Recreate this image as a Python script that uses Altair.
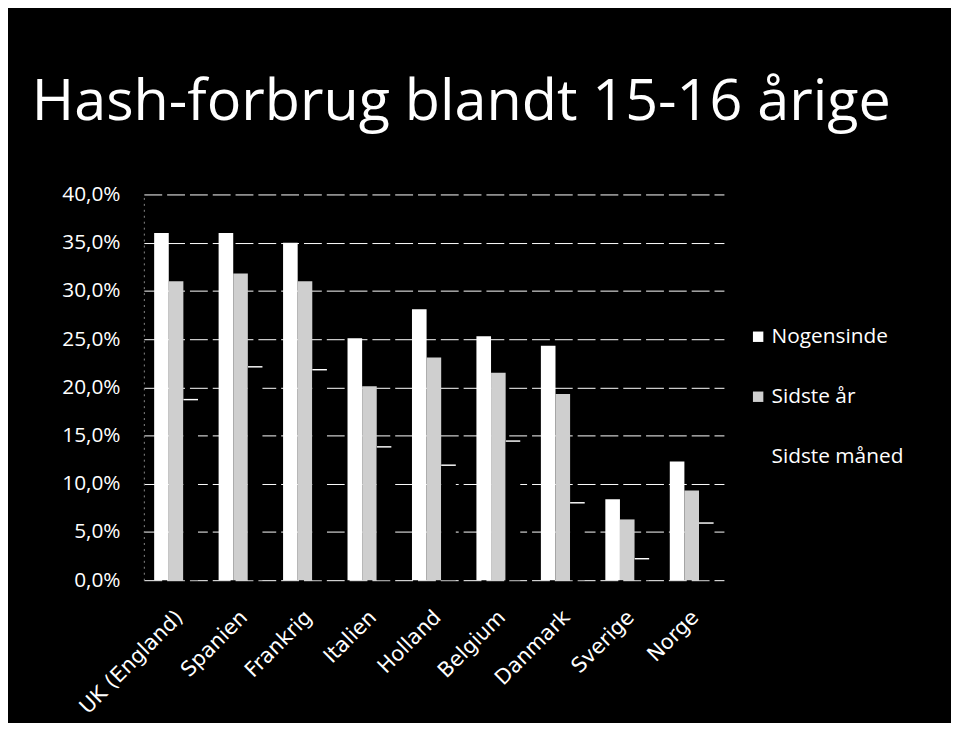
import altair as alt
import pandas as pd

lande = ["UK (England)", "Spanien", "Frankrig", "Italien", "Holland",
         "Belgium", "Danmark", "Sverige", "Norge"]
serier = ["Nogensinde", "Sidste år", "Sidste måned"]
nogensinde = [36.0, 36.0, 35.0, 25.1, 28.1, 25.3, 24.3, 8.4, 12.3]
sidste_aar = [31.0, 31.8, 31.0, 20.1, 23.1, 21.5, 19.3, 6.3, 9.3]
sidste_maaned = [18.8, 22.2, 21.9, 13.9, 12.0, 14.5, 8.1, 2.3, 6.0]
farver = ["#ffffff", "#cfcfcf", "#000000"]
y_ticks = [0, 0.05, 0.10, 0.15, 0.20, 0.25, 0.30, 0.35, 0.40]

rows = []
for i, land in enumerate(lande):
    for s, vals in zip(serier, [nogensinde, sidste_aar, sidste_maaned]):
        rows.append({"Land": land, "Serie": s, "Andel": vals[i] / 100.0})
df = pd.DataFrame(rows)

FONT = "Open Sans"

x_enc = alt.X("Land:N", sort=lande, title=None,
              scale=alt.Scale(paddingInner=0.32, paddingOuter=0.16),
              axis=alt.Axis(labelAngle=-45, labelAlign="right", labelBaseline="middle",
                            labelColor="white", labelFont="DejaVu Sans", labelFontSize=21,
                            ticks=False, domain=False, labelPadding=34, labelOffset=4,
                            grid=False))
xo_enc = alt.XOffset("Serie:N", sort=serier, scale=alt.Scale(domain=serier))
y_enc = alt.Y("Andel:Q", title=None,
              scale=alt.Scale(domain=[0, 0.4], nice=False),
              axis=alt.Axis(values=y_ticks,
                            labelExpr="replace(format(datum.value, '.1%'), '.', ',')",
                            labelColor="white", labelFont=FONT, labelFontSize=21,
                            labelPadding=24, ticks=False,
                            domain=True, domainColor="#888888", domainDash=[2, 4],
                            grid=True, gridColor="white", gridDash=[18, 5],
                            gridWidth=1))

bars = alt.Chart(df).mark_bar().encode(
    x=x_enc,
    xOffset=xo_enc,
    y=y_enc,
    color=alt.Color("Serie:N", sort=serier,
                    scale=alt.Scale(domain=serier, range=farver),
                    legend=alt.Legend(title=None, orient="none", legendX=609, legendY=133,
                                      labelColor="white", labelFont=FONT, labelFontSize=21,
                                      symbolType="square", symbolSize=110,
                                      symbolStrokeWidth=0, rowPadding=38.5,
                                      labelOffset=3)),
)

tops = alt.Chart(df).transform_filter(
    alt.datum.Serie == "Sidste måned"
).transform_calculate(
    Bund="datum.Andel - 0.0015"
).mark_bar(color="white").encode(
    x=alt.X("Land:N", sort=lande),
    xOffset=xo_enc,
    y="Andel:Q",
    y2="Bund:Q",
)

chart = alt.layer(bars, tops).properties(
    width=585, height=389,
    autosize=alt.AutoSizeParams(type="none"),
    padding={"left": 137, "top": 185, "right": 229, "bottom": 141},
    background="black",
    title=alt.TitleParams("Hash-forbrug blandt 15-16 årige", font=FONT, fontSize=58,
                          fontWeight="normal", color="white", anchor="start",
                          dx=-113, offset=6, baseline="alphabetic", frame="group"),
).configure_view(stroke=None)

chart.save("out.html", embed_options={"renderer": "svg", "actions": False})
